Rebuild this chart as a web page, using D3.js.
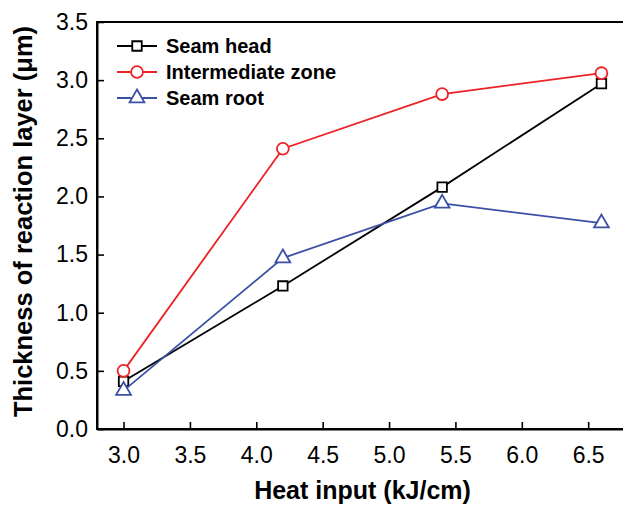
<!DOCTYPE html>
<html>
<head>
<meta charset="utf-8">
<script src="https://cdn.jsdelivr.net/npm/d3@7"></script>
<style>
  body { margin: 0; background: #fff; }
  svg { display: block; font-family: "Liberation Sans", Arial, sans-serif; }
</style>
</head>
<body>
<div id="chart"></div>
<script>
// data
const heatInput = [3.0, 4.2, 5.4, 6.6];
const seamHead = [0.41, 1.23, 2.08, 2.97];
const intermediateZone = [0.50, 2.41, 2.88, 3.06];
const seamRoot = [0.33, 1.47, 1.94, 1.77];
const xTicks = [3.0, 3.5, 4.0, 4.5, 5.0, 5.5, 6.0, 6.5];
const yTicks = [0.0, 0.5, 1.0, 1.5, 2.0, 2.5, 3.0, 3.5];

const series = [
    { name: 'Seam head', values: seamHead, color: '#000000', symbol: d3.symbolSquare, size: 90 },
    { name: 'Intermediate zone', values: intermediateZone, color: '#ec2227', symbol: d3.symbolCircle, size: 110 },
    { name: 'Seam root', values: seamRoot, color: '#3b50a5', symbol: d3.symbolTriangle, size: 95 }
];

const width = 623, height = 506;
const margins = { top: 22, right: -5, bottom: 77, left: 97 };
const innerW = width - margins.left - margins.right;
const innerH = height - margins.top - margins.bottom;

const svg = d3.select('#chart').append('svg')
    .attr('width', width)
    .attr('height', height);

const x = d3.scaleLinear().domain([2.8, 6.8]).range([0, innerW]);
const y = d3.scaleLinear().domain([0, 3.5]).range([innerH, 0]);

const g = svg.append('g').attr('transform', `translate(${margins.left},${margins.top})`);

// frame
g.append('rect')
    .attr('width', innerW).attr('height', innerH)
    .attr('fill', 'none').attr('stroke', '#000').attr('stroke-width', 2);

// axes, ticks pointing inward
const xAxis = g.append('g').attr('transform', `translate(0,${innerH})`)
    .call(d3.axisBottom(x).tickValues(xTicks).tickFormat(d3.format('.1f')).tickSizeInner(-7).tickSizeOuter(0).tickPadding(12));
const yAxis = g.append('g')
    .call(d3.axisLeft(y).tickValues(yTicks).tickFormat(d3.format('.1f')).tickSizeInner(-7).tickSizeOuter(0).tickPadding(9));

[xAxis, yAxis].forEach(ax => {
    ax.attr('font-size', 23);
    ax.select('.domain').attr('stroke-width', 2);
    ax.selectAll('.tick line').attr('stroke-width', 1.6);
    ax.selectAll('.tick text')
        .attr('font-size', 23)
        .attr('font-family', '"Liberation Sans", Arial, sans-serif')
        .attr('fill', '#000');
});
xAxis.selectAll('.tick text').attr('dy', '0.95em');

// lines and symbols
const line = d3.line()
    .x((d, i) => x(heatInput[i]))
    .y(d => y(d));

series.forEach((s, k) => {
    g.append('path')
        .datum(s.values)
        .attr('d', line)
        .attr('fill', 'none')
        .attr('stroke', s.color)
        .attr('stroke-width', 1.8);

    g.selectAll(`path.sym_${k}`)
        .data(s.values)
        .enter()
        .append('path')
        .attr('class', `sym_${k}`)
        .attr('transform', (d, i) => `translate(${x(heatInput[i])},${y(d)})`)
        .attr('d', d3.symbol().type(s.symbol).size(s.size))
        .attr('fill', '#fff')
        .attr('stroke', s.color)
        .attr('stroke-width', 1.8);
});

// legend
const legend = g.append('g').attr('transform', 'translate(20,24)');
series.forEach((s, k) => {
    const row = legend.append('g').attr('transform', `translate(0,${k * 26})`);
    row.append('line')
        .attr('x1', 0).attr('x2', 40)
        .attr('stroke', s.color).attr('stroke-width', 1.8);
    row.append('path')
        .attr('transform', 'translate(20,0)')
        .attr('d', d3.symbol().type(s.symbol).size(s.size))
        .attr('fill', '#fff')
        .attr('stroke', s.color)
        .attr('stroke-width', 1.8);
    row.append('text')
        .attr('x', 49).attr('dy', '0.36em')
        .attr('font-size', 20).attr('font-weight', 'bold')
        .text(s.name);
});

// axis titles
svg.append('text')
    .attr('x', margins.left + x(4.8)).attr('y', 499)
    .attr('text-anchor', 'middle')
    .attr('font-size', 25).attr('font-weight', 'bold')
    .text('Heat input (kJ/cm)');

svg.append('text')
    .attr('transform', `translate(32,${margins.top + innerH / 2 - 4}) rotate(-90)`)
    .attr('text-anchor', 'middle')
    .attr('font-size', 25.5).attr('font-weight', 'bold')
    .text('Thickness of reaction layer (μm)');
</script>
</body>
</html>
